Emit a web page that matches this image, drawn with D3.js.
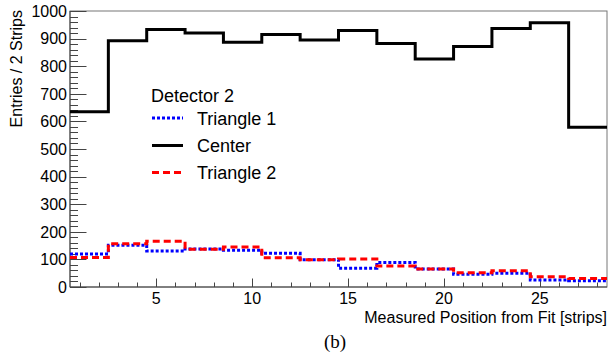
<!DOCTYPE html>
<html><head><meta charset="utf-8">
<script src="https://cdn.jsdelivr.net/npm/d3@7"></script>
<style>body{margin:0;background:#fff;} svg{display:block;}</style>
</head><body>
<svg id="c" width="610" height="362"></svg>
<script>
// ---- data ----
const binCenters = [1.5, 3.5, 5.5, 7.5, 9.5, 11.5, 13.5, 15.5, 17.5, 19.5, 21.5, 23.5, 25.5, 27.5];
const binWidth = 2;
const triangle1 = [120, 151, 130, 138, 133, 122, 99, 68, 89, 65, 46, 50, 25, 23];
const center    = [635, 892, 933, 920, 887, 915, 895, 929, 882, 826, 871, 937, 957, 579];
const triangle2 = [107, 157, 166, 137, 145, 106, 99, 101, 76, 65, 52, 59, 37, 31];
const xTicks = [5, 10, 15, 20, 25];
const yTicks = [0, 100, 200, 300, 400, 500, 600, 700, 800, 900, 1000];
const legendTitle = "Detector 2";
const seriesNames = ["Triangle 1", "Center", "Triangle 2"];

// ---- layout ----
const svg = d3.select("#c");
const L = 70, R = 607, T = 11, B = 287;
const x = d3.scaleLinear().domain([0.5, 28.5]).range([L, R]);
const y = d3.scaleLinear().domain([0, 1000]).range([B, T]);
const font = "'Liberation Sans', Arial, sans-serif";

svg.append("clipPath").attr("id", "clip").append("rect")
  .attr("x", L).attr("y", T).attr("width", R - L).attr("height", B - T);

// frame
svg.append("rect").attr("x", L).attr("y", T).attr("width", R - L).attr("height", B - T)
  .attr("fill", "none").attr("stroke", "#777").attr("stroke-width", 1);

// axes (ticks inward)
const yMinor = d3.range(0, 1001, 20);
const xMinor = d3.range(1, 29, 1);
const axG = svg.append("g").attr("stroke", "#444").attr("stroke-width", 1);
axG.append("line").attr("x1", L).attr("x2", L).attr("y1", T).attr("y2", B);
axG.append("line").attr("x1", L).attr("x2", R).attr("y1", B).attr("y2", B);
axG.selectAll(".ym").data(yMinor).join("line")
  .attr("x1", L).attr("x2", d => L + (d % 100 === 0 ? 16.5 : 8))
  .attr("y1", d => Math.round(y(d)) + 0.5).attr("y2", d => Math.round(y(d)) + 0.5);
axG.selectAll(".xm").data(xMinor).join("line")
  .attr("y1", B).attr("y2", d => B - (d % 5 === 0 ? 8.5 : 4.5))
  .attr("x1", d => Math.round(x(d)) + 0.5).attr("x2", d => Math.round(x(d)) + 0.5);

svg.selectAll(".yl").data(yTicks).join("text")
  .attr("x", 67).attr("y", d => y(d)).attr("dy", "0.36em")
  .attr("text-anchor", "end").attr("font-family", font).attr("font-size", 16).attr("fill", "#000")
  .text(d => d);
svg.selectAll(".xl").data(xTicks).join("text")
  .attr("x", d => x(d)).attr("y", 304)
  .attr("text-anchor", "middle").attr("font-family", font).attr("font-size", 16).attr("fill", "#000")
  .text(d => d);

svg.append("text").attr("x", R).attr("y", 322.5).attr("text-anchor", "end")
  .attr("font-family", font).attr("font-size", 16).text("Measured Position from Fit [strips]");
svg.append("text").attr("transform", "translate(22,10) rotate(-90)").attr("text-anchor", "end")
  .attr("font-family", font).attr("font-size", 16).text("Entries / 2 Strips");
svg.append("text").attr("x", 335).attr("y", 348).attr("text-anchor", "middle")
  .attr("font-family", "'Liberation Serif', 'Times New Roman', serif").attr("font-size", 19).text("(b)");

// histograms
function stepPts(vals) {
  const pts = [];
  vals.forEach((v, i) => {
    pts.push([binCenters[i] - binWidth / 2, v]);
    pts.push([binCenters[i] + binWidth / 2, v]);
  });
  return pts;
}
const line = d3.line().x(d => x(d[0])).y(d => y(d[1]));
const series = [
  {vals: triangle1, color: "#0000ff", dash: "3,2"},
  {vals: center, color: "#000000", dash: null},
  {vals: triangle2, color: "#ff0000", dash: "7,4"}
];
const hg = svg.append("g").attr("clip-path", "url(#clip)");
series.forEach(s => {
  hg.append("path").attr("d", line(stepPts(s.vals)))
    .attr("fill", "none").attr("stroke", s.color).attr("stroke-width", 3)
    .attr("stroke-dasharray", s.dash).attr("stroke-linejoin", "miter").attr("stroke-linecap", "butt");
});

// legend
const lg = svg.append("g");
lg.append("text").attr("x", 151).attr("y", 102).attr("font-family", font).attr("font-size", 18).text(legendTitle);
const rowY = [118, 145.5, 172.5];
series.forEach((s, i) => {
  lg.append("line").attr("x1", 152).attr("x2", 183).attr("y1", rowY[i]).attr("y2", rowY[i])
    .attr("stroke", s.color).attr("stroke-width", 3).attr("stroke-dasharray", s.dash);
  lg.append("text").attr("x", 197).attr("y", rowY[i] + 6.5).attr("font-family", font)
    .attr("font-size", 18).text(seriesNames[i]);
});
</script>
</body></html>
